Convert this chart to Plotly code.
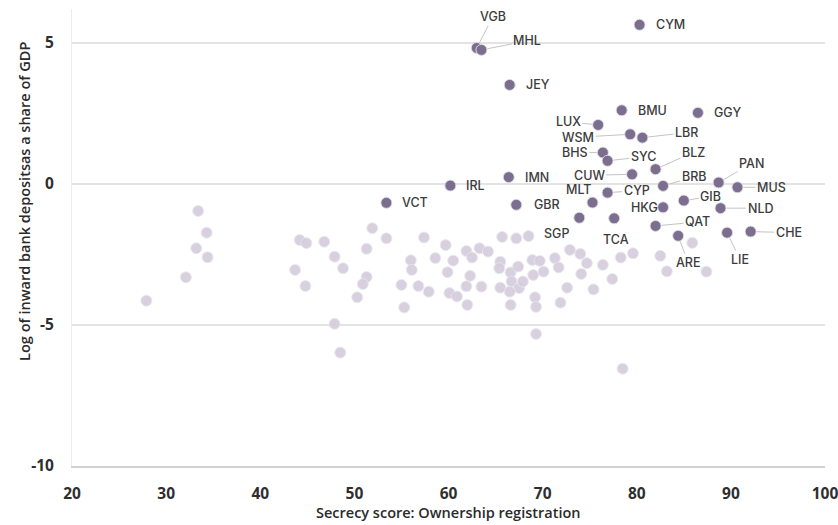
import plotly.graph_objects as go

# Labelled jurisdictions
codes = ["VGB", "MHL", "CYM", "JEY", "BMU", "GGY", "LUX", "WSM", "LBR", "BHS", "SYC",
         "BLZ", "CUW", "IMN", "IRL", "BRB", "PAN", "MUS", "CYP", "GIB", "MLT", "VCT",
         "GBR", "HKG", "NLD", "SGP", "TCA", "QAT", "LIE", "CHE", "ARE"]
code_x = [63.0, 63.5, 80.3, 66.5, 78.4, 86.5, 75.9, 79.3, 80.6, 76.4, 76.9,
          82.0, 79.5, 66.4, 60.2, 82.8, 88.7, 90.7, 76.9, 85.0, 75.3, 53.4,
          67.2, 82.8, 88.9, 73.9, 77.6, 82.0, 89.6, 92.1, 84.4]
code_y = [4.82, 4.75, 5.64, 3.51, 2.61, 2.52, 2.09, 1.76, 1.64, 1.11, 0.82,
          0.52, 0.34, 0.24, -0.06, -0.07, 0.05, -0.12, -0.31, -0.59, -0.66, -0.67,
          -0.74, -0.83, -0.86, -1.20, -1.22, -1.49, -1.73, -1.69, -1.84]

# Other jurisdictions (unlabelled)
other_x = [33.4, 34.3, 33.2, 34.4, 32.1, 27.9, 44.2, 44.9, 46.8, 47.9, 48.8, 43.7, 44.8,
           47.9, 48.5, 51.9, 53.4, 51.3, 51.3, 50.9, 50.3, 56.0, 56.1, 57.4, 58.6, 59.7,
           60.5, 59.9, 55.0, 56.8, 57.9, 60.1, 60.9, 55.3, 61.9, 62.5, 63.3, 64.2, 62.3,
           61.9, 63.5, 62.0, 65.7, 67.2, 68.5, 65.5, 65.4, 66.6, 67.4, 66.7, 67.5, 67.9,
           65.5, 66.5, 66.6, 68.9, 69.7, 69.0, 70.1, 69.2, 69.3, 69.3, 71.3, 71.7, 72.9,
           74.0, 74.7, 74.1, 72.6, 71.9, 75.4, 76.4, 77.4, 78.3, 79.6, 78.5, 82.5, 83.2,
           85.9, 87.4]
other_y = [-0.96, -1.73, -2.28, -2.60, -3.31, -4.14, -1.99, -2.10, -2.05, -2.58, -2.99,
           -3.05, -3.62, -4.96, -5.98, -1.57, -1.93, -2.30, -3.30, -3.55, -4.02, -2.71,
           -3.05, -1.90, -2.63, -2.17, -2.72, -3.13, -3.58, -3.62, -3.82, -3.87, -3.99,
           -4.38, -2.38, -2.61, -2.28, -2.40, -3.26, -3.63, -3.64, -4.29, -1.88, -1.93,
           -1.85, -2.76, -2.99, -3.14, -2.93, -3.46, -3.69, -3.46, -3.68, -3.82, -4.29,
           -2.70, -2.73, -3.23, -3.11, -4.02, -4.36, -5.32, -2.63, -2.96, -2.34, -2.48,
           -2.81, -3.19, -3.68, -4.21, -3.74, -2.87, -3.37, -2.61, -2.46, -6.55, -2.55,
           -3.10, -2.09, -3.11]

x_ticks = [20, 30, 40, 50, 60, 70, 80, 90, 100]
y_ticks = [-10, -5, 0, 5]
x_title = "Secrecy score: Ownership registration"
y_title = "Log of inward bank depositsas a share of GDP"

# label placement: (mode, dx, dy) in pixels
label_place = {
    "VGB": ("arrow", 16, -31), "MHL": ("arrow", 46, -9), "CYM": ("right", 0, 0),
    "JEY": ("right", 0, 0), "BMU": ("right", 0, 0), "GGY": ("right", 0, 0),
    "LUX": ("arrow", -30, -3), "WSM": ("arrow", -52, 3), "LBR": ("arrow", 44, -5),
    "BHS": ("arrow", -28, 0), "SYC": ("arrow", 36, -4), "BLZ": ("arrow", 38, -17),
    "CUW": ("arrow", -43, 1), "IMN": ("right", 0, 0), "IRL": ("right", 0, 0),
    "BRB": ("arrow", 31, -9), "PAN": ("arrow", 33, -19), "MUS": ("arrow", 34, 0),
    "CYP": ("arrow", 29, -2), "GIB": ("arrow", 27, -4), "MLT": ("free", -14, 13),
    "VCT": ("right", 0, 0), "GBR": ("right", 2, 0), "HKG": ("left", 0, 0),
    "NLD": ("arrow", 40, 0), "SGP": ("free", -23, -16), "TCA": ("free", 2, -21),
    "QAT": ("arrow", 42, -4), "LIE": ("arrow", 13, 27), "CHE": ("arrow", 38, 1),
    "ARE": ("arrow", 10, 27),
}

fig = go.Figure()
fig.add_trace(go.Scatter(
    x=other_x, y=other_y, mode="markers", hoverinfo="skip",
    marker=dict(size=11, color="#d5cddd", opacity=0.92,
                line=dict(width=1, color="rgba(232,232,236,0.9)")),
))
fig.add_trace(go.Scatter(
    x=code_x, y=code_y, mode="markers", hoverinfo="skip",
    marker=dict(size=11, color="#7c6e8f",
                line=dict(width=1, color="rgba(225,222,230,0.9)")),
))

lab_font = dict(family="Inter, Roboto, sans-serif", size=12.5, color="#3c3c3c", weight=500)
for c, xv, yv in zip(codes, code_x, code_y):
    mode, dx, dy = label_place[c]
    if mode == "arrow":
        fig.add_annotation(x=xv, y=yv, text=c, showarrow=True, arrowhead=0,
                           arrowwidth=1, arrowcolor="#c4c4c4", ax=dx, ay=dy,
                           standoff=6, font=lab_font)
    elif mode == "right":
        fig.add_annotation(x=xv, y=yv, text=c, showarrow=False, xanchor="left",
                           xshift=14 + dx, font=lab_font)
    elif mode == "left":
        fig.add_annotation(x=xv, y=yv, text=c, showarrow=False, xanchor="right",
                           xshift=-3, font=lab_font)
    else:
        fig.add_annotation(x=xv, y=yv, text=c, showarrow=False,
                           xshift=dx, yshift=dy, font=lab_font)

title_font = dict(family="Open Sans, sans-serif", size=14.5, color="#2a2a2a", weight=600)
fig.add_annotation(xref="paper", yref="paper", x=0.5, y=-0.101, text=x_title,
                   showarrow=False, xanchor="center", yanchor="middle", font=title_font)
fig.add_annotation(xref="paper", yref="paper", x=-0.0625, y=0.58, text=y_title,
                   showarrow=False, textangle=-90, xanchor="center", yanchor="middle",
                   font=title_font)

tick_font = dict(family="Open Sans, sans-serif", size=15.5, color="#2e2e2e", weight=700)
fig.update_xaxes(range=[20, 100], tickvals=x_ticks, ticktext=[str(v) for v in x_ticks],
                 showgrid=False, zeroline=False, showline=True, linecolor="#d2d2d2",
                 linewidth=2, ticks="", ticklabelstandoff=12, tickfont=tick_font,
                 ticklabeloverflow="allow", automargin=False)
fig.update_yaxes(range=[-10, 6.2], tickvals=y_ticks, ticktext=[str(v) for v in y_ticks],
                 showgrid=True, gridcolor="#e3e3e3", gridwidth=2, zeroline=False,
                 showline=True, linecolor="#ececec", linewidth=1, ticks="",
                 ticklabelstandoff=14, tickfont=tick_font, automargin=False)

fig.update_layout(
    width=838, height=525, showlegend=False,
    margin=dict(l=72, r=13, t=9, b=59),
    plot_bgcolor="white", paper_bgcolor="white",
)
fig.write_html("out.html", config={"displayModeBar": False},
               post_script="document.body.style.margin='0px';")
